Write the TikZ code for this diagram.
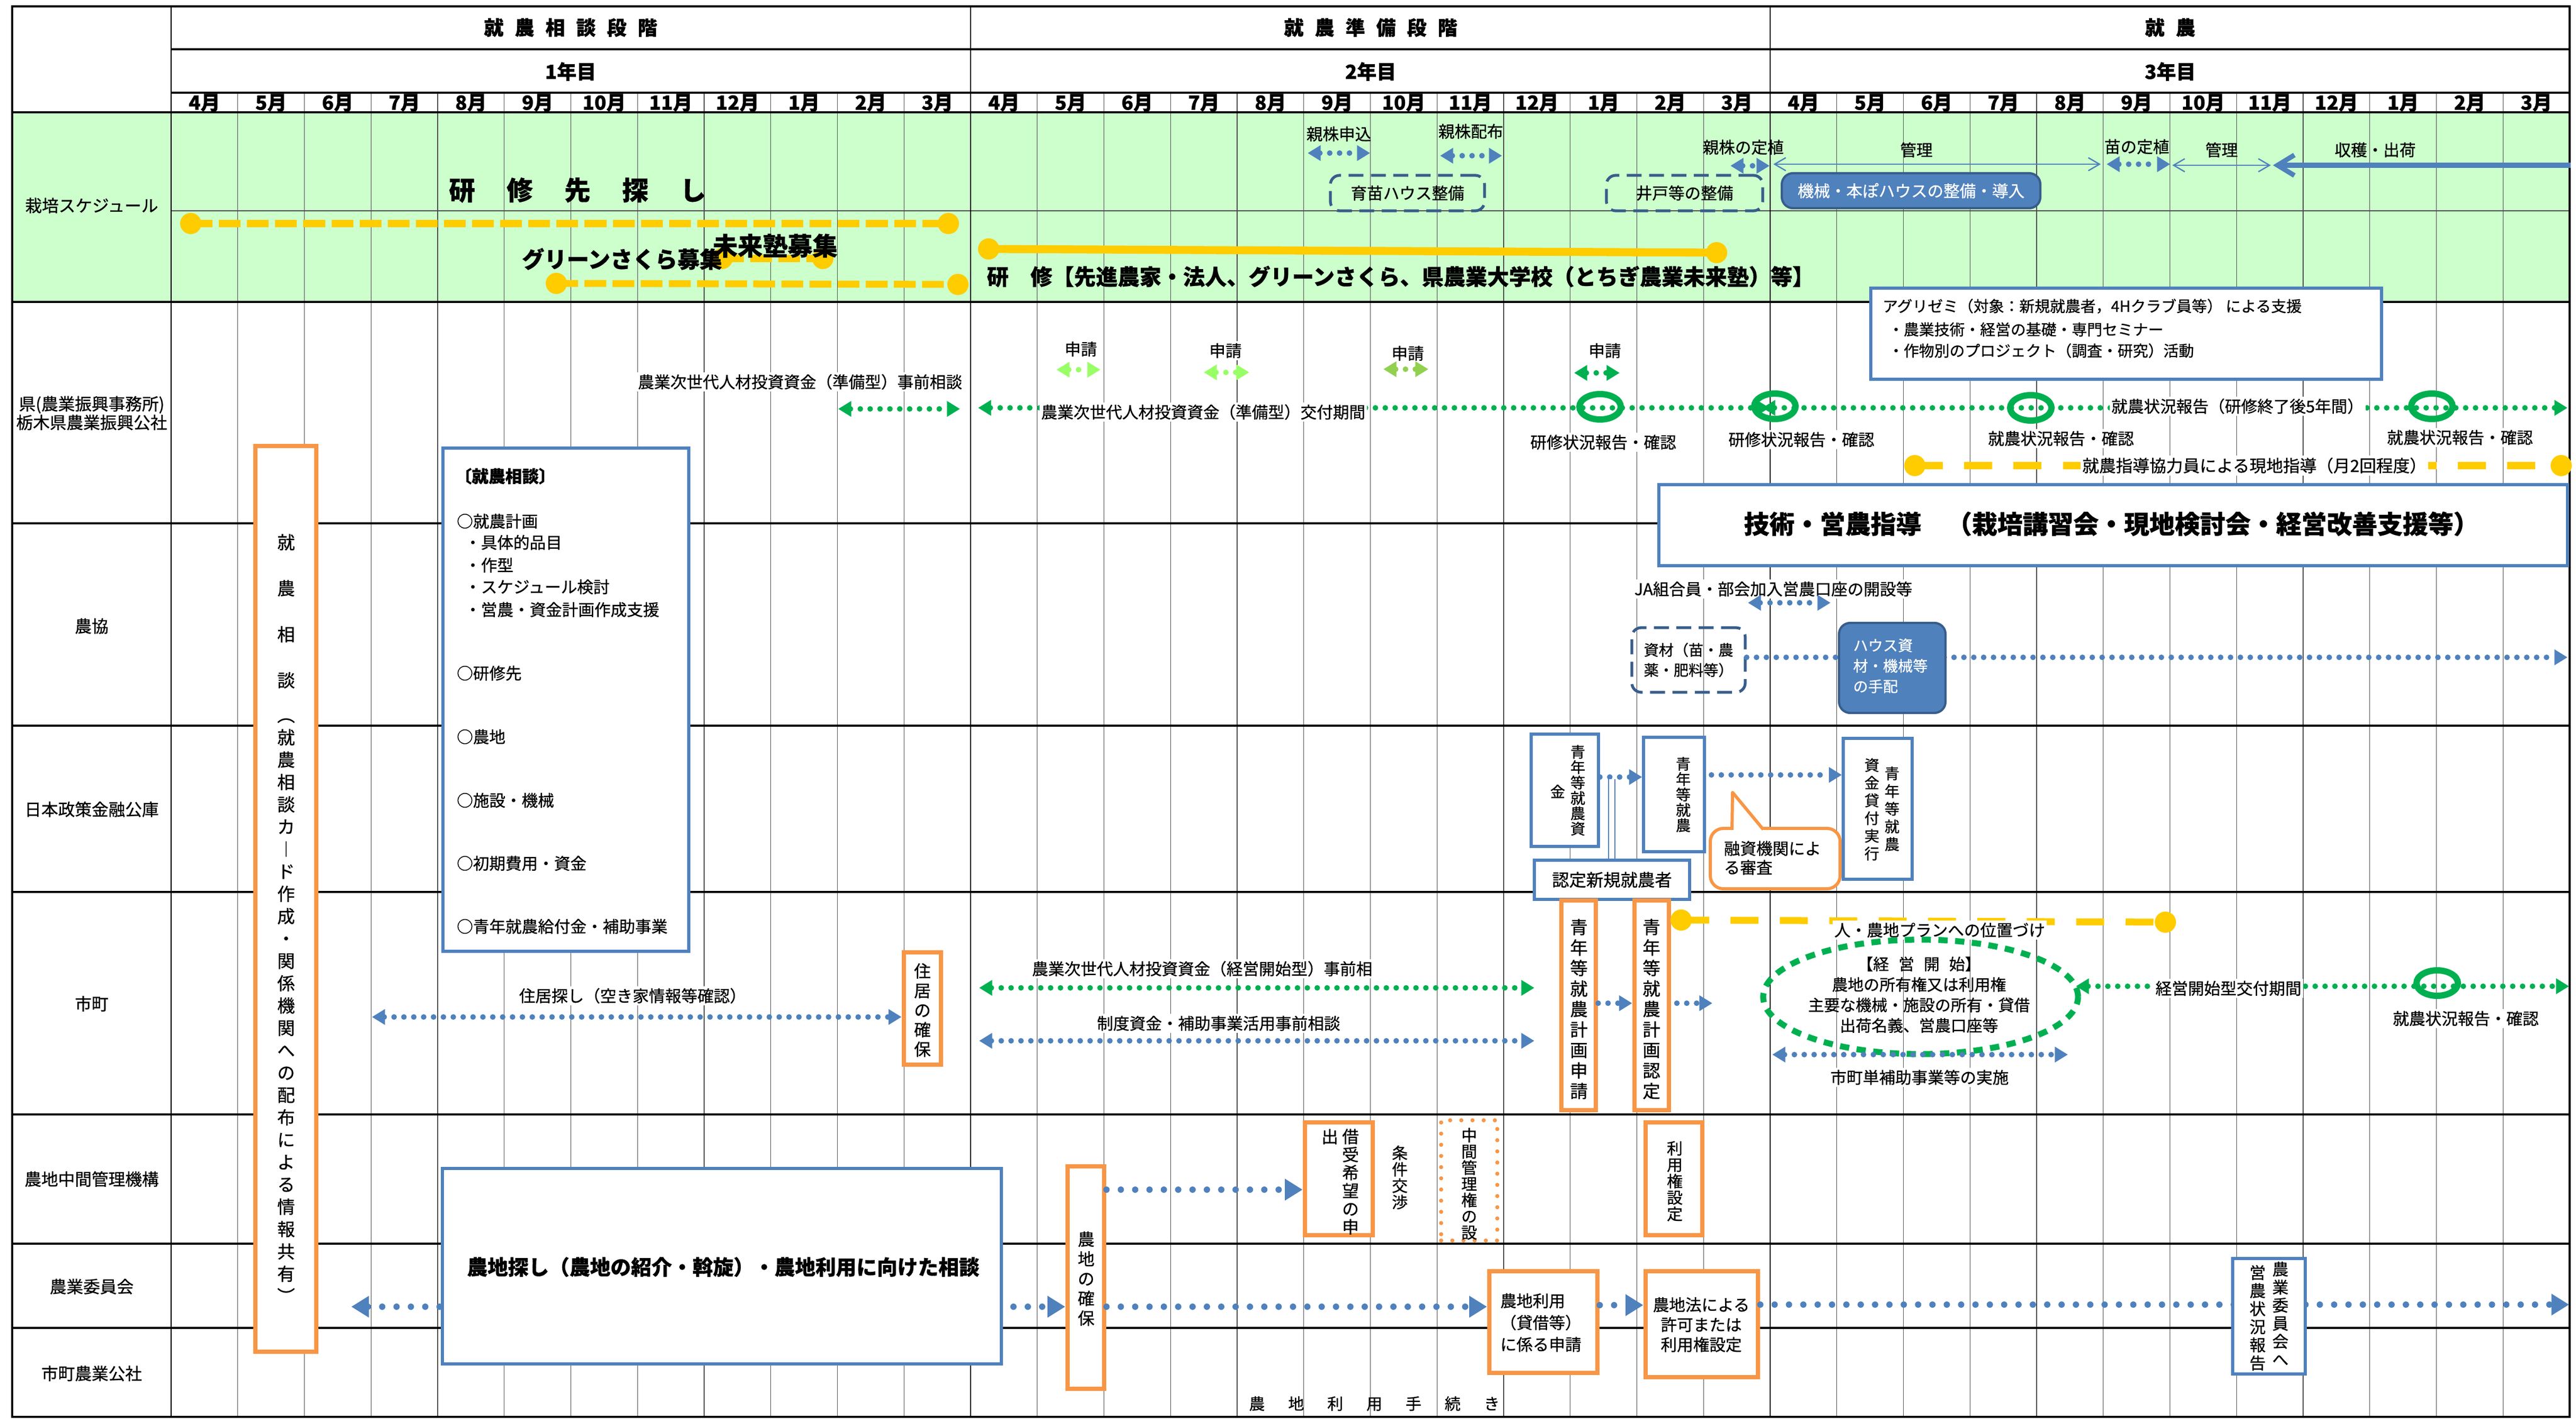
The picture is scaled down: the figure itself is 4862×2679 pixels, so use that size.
\documentclass[tikz,border=0pt]{standalone}
\usepackage{fontspec}
\setmainfont{Noto Sans CJK JP}[FakeBold=0.8]
\usetikzlibrary{arrows.meta,fit,shapes.geometric}
\definecolor{cblue}{HTML}{4F81BD}
\definecolor{cdblue}{HTML}{385D8A}
\definecolor{corange}{HTML}{F79646}
\definecolor{cgreen}{HTML}{00B050}
\definecolor{cyellow}{HTML}{FFCC00}
\definecolor{cbg}{HTML}{CCFFCC}
\definecolor{clgreen}{HTML}{99FF66}
\definecolor{cmgreen}{HTML}{92D050}
\newcommand\hgap{\hspace{6pt}}
\newcommand\fsz[2]{\fontsize{#1pt}{#2pt}\selectfont}
\tikzset{
  TF/.tip={Triangle[length=7pt,width=8pt]},
  TB/.tip={Triangle[length=9.5pt,width=11pt]},
  TO/.tip={Straight Barb[length=6pt,width=7pt]},
  TK/.tip={Straight Barb[length=9pt,width=11pt]},
}
\begin{document}
\begin{tikzpicture}[x=0.01cm,y=-0.01cm,
  gridthin/.style={draw=black!70,line width=0.35pt},
  gridyear/.style={draw=black,line width=0.8pt},
  gridthick/.style={draw=black,line width=1.2pt},
  lbl/.style={font=\fsz{8.7}{10}, inner sep=1pt},
  wl/.style={lbl, fill=white},
  hdr/.style={font=\bfseries\fsz{10.5}{12}, inner sep=0pt},
  mon/.style={font=\bfseries\fsz{10.5}{12}, inner sep=0pt},
  rowlbl/.style={font=\fsz{9}{10}, align=center, inner sep=0pt},
  fd/.style={line width=3pt, line cap=round, dash pattern=on 0pt off 5.3pt},
  bd/.style={line width=3.4pt, line cap=round, dash pattern=on 0pt off 7.7pt},
  yov/.style={circle, fill=cyellow, minimum size=0.4cm, inner sep=0pt},
  ydash/.style={draw=cyellow, line width=3.7pt, dash pattern=on 11.7pt off 3.4pt},
  ydash2/.style={draw=cyellow, line width=3.7pt, dash pattern=on 15pt off 11.5pt},
  ring/.style={ellipse, draw=cgreen, line width=3.4pt, minimum width=0.78cm, minimum height=0.48cm, inner sep=0pt},
  bbox/.style={draw=cblue, line width=1.5pt, fill=white, inner sep=0pt},
  obox/.style={draw=corange, line width=2.5pt, fill=white, inner sep=0pt},
  dbox/.style={draw=cdblue, line width=1.5pt, dash pattern=on 8pt off 4pt, rounded corners=5pt, inner sep=0pt},
  fbox/.style={draw=cdblue, line width=1.2pt, fill=cblue, rounded corners=6pt, inner sep=0pt},
]
\useasboundingbox (0,0) rectangle (4862,2679);
% ---------------- background and grid
\fill[cbg] (23,212) rectangle (4850,570);
\foreach \mm in {1,...,35} \draw[gridthin] ({323+125.75*\mm},175) -- ({323+125.75*\mm},2675);
\draw[gridthin] (323,398) -- (4850,398);
\foreach \yy in {570,988,1370,1684,2104,2348,2507} \draw[gridthick] (23,\yy) -- (4850,\yy);
\draw[gridthick] (323,93) -- (4850,93);
\draw[gridthick] (323,175) -- (4850,175);
\draw[gridthick] (23,212) -- (4850,212);
\draw[gridyear] (323,12) -- (323,2675);
\draw[gridyear] (1832,12) -- (1832,2675);
\draw[gridyear] (3341,12) -- (3341,2675);
\draw[gridthick] (23,12) rectangle (4850,2675);
% ---------------- headers
\node[hdr] (ph1) at (1077,52) {就\hgap 農\hgap 相\hgap 談\hgap 段\hgap 階};
\node[hdr] (ph2) at (2587,52) {就\hgap 農\hgap 準\hgap 備\hgap 段\hgap 階};
\node[hdr] (ph3) at (4096,52) {就\hgap 農};
\node[hdr] (yr1) at (1077,135) {1年目};
\node[hdr] (yr2) at (2587,135) {2年目};
\node[hdr] (yr3) at (4096,135) {3年目};
\foreach \mo/\lab in {0/4,1/5,2/6,3/7,4/8,5/9,6/10,7/11,8/12,9/1,10/2,11/3}
  \foreach \k in {0,1,2}
    \node[mon] (mo\k-\mo) at ({323+125.75*(\mo+12*\k+0.5)},194) {\lab 月};
% ---------------- row labels
\node[rowlbl] (r1) at (173,388) {栽培スケジュール};
\node[rowlbl] (r2) at (173,780) {県(農業振興事務所)\\栃木県農業振興公社};
\node[rowlbl] (r3) at (173,1182) {農協};
\node[rowlbl] (r4) at (173,1528) {日本政策金融公庫};
\node[rowlbl] (r5) at (173,1895) {市町};
\node[rowlbl] (r6) at (173,2226) {農地中間管理機構};
\node[rowlbl] (r7) at (173,2429) {農業委員会};
\node[rowlbl] (r8) at (173,2593) {市町農業公社};
% ---------------- schedule row, year 1
\node[font=\bfseries\fsz{14}{16}, inner sep=0] (kensaki) at (1090,359) {研\hspace{17pt}修\hspace{17pt}先\hspace{17pt}探\hspace{17pt}し};
\node[yov] (ya1) at (360,422) {};
\node[yov] (ya2) at (1790,422) {};
\draw[ydash] (ya1.center) -- (ya2.center);
\node[yov] (yb1) at (1363,488) {};
\node[yov] (yb2) at (1553,488) {};
\draw[ydash] (yb1.center) -- (yb2.center);
\node[yov] (yc1) at (1050,535) {};
\node[yov] (yc2) at (1808,537) {};
\draw[ydash] (yc1.center) -- (yc2.center);
\node[font=\bfseries\fsz{12}{14}, inner sep=0] (green) at (1174,489) {グリーンさくら募集};
\node[font=\bfseries\fsz{13.4}{15}, inner sep=0] (mirai) at (1463,464) {未来塾募集};
% ---------------- schedule row, year 2/3
\node[lbl] (oya1) at (2527,253) {親株申込};
\coordinate (a1a) at (2468,289); \coordinate (a1b) at (2586,289);
\draw[fd, draw=cblue, arrows={TF-TF}] (a1a) -- (a1b);
\node[lbl] (oya2) at (2776,248) {親株配布};
\coordinate (a2a) at (2718,294); \coordinate (a2b) at (2835,294);
\draw[fd, draw=cblue, arrows={TF-TF}] (a2a) -- (a2b);
\node[dbox, fit={(2511,331) (2802,398)}] (ikubyo) {};
\node[lbl] at (ikubyo.center) {育苗ハウス整備};
\node[dbox, fit={(3032,331) (3327,398)}] (ido) {};
\node[lbl] at (ido.center) {井戸等の整備};
\node[lbl] (teishoku1) at (3290,278) {親株の定植};
\coordinate (a3a) at (3266,313); \coordinate (a3b) at (3340,313);
\draw[fd, draw=cblue, arrows={TF-TF}] (a3a) -- (a3b);
\coordinate (t1a) at (3347,310); \coordinate (t1b) at (3965,310);
\draw[draw=cblue, line width=0.7pt, arrows={TO-TO}] (t1a) -- (t1b);
\node[lbl] (kanri1) at (3617,283) {管理};
\node[lbl] (teishoku2) at (4033,277) {苗の定植};
\coordinate (a4a) at (3976,310); \coordinate (a4b) at (4096,310);
\draw[fd, draw=cblue, arrows={TF-TF}] (a4a) -- (a4b);
\coordinate (t2a) at (4100,312); \coordinate (t2b) at (4286,312);
\draw[draw=cblue, line width=0.7pt, arrows={TO-TO}] (t2a) -- (t2b);
\node[lbl] (kanri2) at (4193,283) {管理};
\coordinate (t3a) at (4290,312); \coordinate (t3b) at (4852,312);
\draw[draw=cblue, line width=2.6pt, arrows={TK-}] (t3a) -- (t3b);
\node[lbl] (shukaku) at (4483,283) {収穫・出荷};
\node[fbox, fit={(3363,327) (3851,393)}] (kikai) {};
\node[lbl, text=white] at (kikai.center) {機械・本ぽハウスの整備・導入};
\node[yov] (ys1) at (1866,470) {};
\node[yov] (ys2) at (3240,477) {};
\draw[cyellow, line width=4.3pt] (ys1.center) -- (ys2.center);
\node[font=\bfseries\fsz{11.7}{13}, inner sep=0, anchor=west] (kenshu) at (1862,522) {研　修【先進農家・法人、グリーンさくら、県農業大学校（とちぎ農業未来塾）等】};
% ---------------- 県 row
\node[wl] (jizen1) at (1510,721) {農業次世代人材投資資金（準備型）事前相談};
\coordinate (g1a) at (1582,772); \coordinate (g1b) at (1812,772);
\draw[fd, draw=cgreen, arrows={TF-TF}] (g1a) -- (g1b);
\coordinate (g2a) at (1846,770); \coordinate (g2b) at (3340,770);
\draw[fd, draw=cgreen, arrows={TF-TF}] (g2a) -- (g2b);
\node[wl] (kofu1) at (2271,778) {農業次世代人材投資資金（準備型）交付期間};
\coordinate (g3a) at (3326,770); \coordinate (g3b) at (4846,770);
\draw[fd, draw=cgreen, arrows={TF-TF}] (g3a) -- (g3b);
\node[wl] (kofu2) at (4223,767) {就農状況報告（研修終了後5年間）};
\node[ring] (ring1) at (3020,768) {};
\node[ring] (ring2) at (3350,767) {};
\node[ring] (ring3) at (3833,770) {};
\node[ring] (ring4) at (4590,767) {};
\node[wl] (rep1) at (3026,835) {研修状況報告・確認};
\node[wl] (rep2) at (3400,830) {研修状況報告・確認};
\node[wl] (rep3) at (3890,828) {就農状況報告・確認};
\node[wl] (rep4) at (4643,826) {就農状況報告・確認};
\node[wl] (sin1) at (2040,659) {申請};
\coordinate (s1a) at (1994,698); \coordinate (s1b) at (2077,698);
\draw[fd, draw=clgreen, arrows={TF-TF}] (s1a) -- (s1b);
\node[wl] (sin2) at (2313,662) {申請};
\coordinate (s2a) at (2272,703); \coordinate (s2b) at (2358,703);
\draw[fd, draw=clgreen, arrows={TF-TF}] (s2a) -- (s2b);
\node[wl] (sin3) at (2657,667) {申請};
\coordinate (s3a) at (2611,697); \coordinate (s3b) at (2696,697);
\draw[fd, draw=cmgreen, arrows={TF-TF}] (s3a) -- (s3b);
\node[wl] (sin4) at (3029,662) {申請};
\coordinate (s4a) at (2971,704); \coordinate (s4b) at (3057,704);
\draw[fd, draw=cgreen, arrows={TF-TF}] (s4a) -- (s4b);
\node[bbox, fit={(3531,544) (4495,716)}] (agri) {};
\node[lbl, anchor=west, font=\fsz{8.2}{10}] (agri1) at (3549,578) {アグリゼミ（対象：新規就農者，4Hクラブ員等） による支援};
\node[lbl, anchor=west, font=\fsz{8.2}{10}] (agri2) at (3560,622) {・農業技術・経営の基礎・専門セミナー};
\node[lbl, anchor=west, font=\fsz{8.2}{10}] (agri3) at (3560,662) {・作物別のプロジェクト（調査・研究）活動};
\node[yov] (yd1) at (3614,879) {};
\node[yov] (yd2) at (4834,879) {};
\draw[ydash2] (yd1.center) -- (yd2.center);
\node[wl, font=\fsz{9}{10}] (kyoryoku) at (4255,879) {就農指導協力員による現地指導（月2回程度）};
\node[bbox, fit={(3131,915) (4846,1068)}] (gijutsu) {};
\node[font=\bfseries\fsz{13.6}{15}, inner sep=0] at (3985,989) {技術・営農指導\hspace{1em}（栽培講習会・現地検討会・経営改善支援等）};
% ---------------- 農協 row
\node[wl] (ja) at (3347,1112) {JA組合員・部会加入営農口座の開設等};
\coordinate (j1a) at (3299,1138); \coordinate (j1b) at (3455,1138);
\draw[fd, draw=cblue, arrows={TF-TF}] (j1a) -- (j1b);
\node[dbox, fit={(3080,1185) (3294,1307)}] (shizai) {};
\node[font=\fsz{8}{10.8}, align=left, inner sep=0] at (shizai.center) {資材（苗・農\\薬・肥料等）};
\coordinate (j2b) at (4846,1241);
\draw[fd, draw=cblue, arrows={-TF}] (shizai.east |- 0,1241) -- (j2b);
\node[fbox, fit={(3471,1176) (3672,1346)}] (house) {};
\node[font=\fsz{8}{11}, align=left, inner sep=0, text=white, anchor=west] at (3497,1257) {ハウス資\\材・機械等\\の手配};
% ---------------- 公庫 row
\node[bbox, fit={(2890,1386) (3017,1598)}] (boxA) {};
\node[font=\fsz{8}{8.25}, align=center, inner sep=0] at (2978,1492) {青\\年\\等\\就\\農\\資};
\node[font=\fsz{8}{8.25}, inner sep=0] at (2940,1494) {金};
\node[bbox, fit={(3102,1392) (3217,1608)}] (boxB) {};
\node[font=\fsz{8}{8.25}, align=center, inner sep=0] at (3177,1500) {青\\年\\等\\就\\農};
\draw[fd, draw=cblue, arrows={-TF}] (boxA.east |- 0,1467) -- (boxB.west |- 0,1467);
\node[bbox, fit={(2896,1624) (3189,1698)}] (nintei) {};
\node[font=\fsz{9.2}{10}, inner sep=0] at (nintei.center) {認定新規就農者};
\draw[cblue, line width=0.6pt, double distance=3pt] (nintei.north -| 3042,0) -- (3042,1471);
\node[bbox, fit={(3479,1394) (3609,1660)}] (boxC) {};
\node[font=\fsz{8}{9.5}, align=center, inner sep=0] at (3571,1527) {青\\年\\等\\就\\農};
\node[font=\fsz{8}{9.5}, align=center, inner sep=0] at (3533,1528) {資\\金\\貸\\付\\実\\行};
\draw[fd, draw=cblue, arrows={-TF}, shorten <=3pt] (boxB.east |- 0,1463) -- (boxC.west |- 0,1463);
\node[draw=corange, line width=1.7pt, fill=white, rounded corners=7pt, inner sep=0pt, fit={(3228,1564) (3473,1678)}] (callout) {};
\fill[white] (3272,1568) -- (3270,1496) -- (3326,1568) -- cycle;
\draw[corange, line width=1.7pt, line join=round] (3269,1566) -- (3270,1496) -- (3328,1566);
\node[font=\fsz{8.7}{10.2}, align=left, inner sep=0, anchor=north west] at (3253,1587) {融資機関によ\\る審査};
% ---------------- 市町 row
\node[obox, fit={(2947,1700) (3012,2096)}] (boxD) {};
\node[font=\fsz{9.5}{11}, align=center, inner sep=0] at (2980,1905) {青\\年\\等\\就\\農\\計\\画\\申\\請};
\node[obox, fit={(3085,1700) (3150,2096)}] (boxE) {};
\node[font=\fsz{9.5}{11}, align=center, inner sep=0] at (3117,1905) {青\\年\\等\\就\\農\\計\\画\\認\\定};
\draw[fd, draw=cblue, arrows={-TF}] (boxD.east |- 0,1894) -- (boxE.west |- 0,1894);
\coordinate (e1b) at (3232,1894);
\draw[fd, draw=cblue, arrows={-TF}, shorten <=3pt] (boxE.east |- 0,1894) -- (e1b);
\node[yov] (ye1) at (3173,1737) {};
\node[yov] (ye2) at (4087,1741) {};
\draw[ydash2] (ye1.center) -- (ye2.center);
\node[wl] (plan) at (3661,1756) {人・農地プランへの位置づけ};
\node[ellipse, draw=cgreen, line width=3.2pt, dash pattern=on 5pt off 4pt, minimum width=5.94cm, minimum height=2.16cm, inner sep=0pt] (keiei) at (3625,1882) {};
\node[font=\fsz{8.5}{11}, align=center, inner sep=0] at (3622,1878) {【経\hspace{0.6em}営\hspace{0.6em}開\hspace{0.6em}始】\\農地の所有権又は利用権\\主要な機械・施設の所有・貸借\\出荷名義、営農口座等};
\coordinate (k1a) at (3918,1862); \coordinate (k1b) at (4849,1862);
\draw[fd, draw=cgreen, arrows={TF-TF}] (k1a) -- (k1b);
\node[wl] (kaishi) at (4206,1866) {経営開始型交付期間};
\node[ring] (ring5) at (4600,1856) {};
\node[wl] (rep5) at (4654,1923) {就農状況報告・確認};
\coordinate (h1a) at (3345,1991); \coordinate (h1b) at (3903,1991);
\draw[fd, draw=cblue, arrows={TF-TF}] (h1a) -- (h1b);
\node[wl] (tandoku) at (3623,2034) {市町単補助事業等の実施};
\node[obox, fit={(1706,1798) (1776,2010)}] (jukyo) {};
\node[font=\fsz{9}{10.5}, align=center, inner sep=0] at (1741,1907) {住\\居\\の\\確\\保};
\node[wl] (jusagashi) at (1194,1880) {住居探し（空き家情報等確認）};
\coordinate (u1a) at (702,1920);
\draw[fd, draw=cblue, arrows={TF-TF}] (u1a) -- (jukyo.west |- 0,1920);
\coordinate (u2a) at (1848,1865); \coordinate (u2b) at (2896,1865);
\draw[fd, draw=cgreen, arrows={TF-TF}] (u2a) -- (u2b);
\node[wl] (jizen2) at (2269,1829) {農業次世代人材投資資金（経営開始型）事前相};
\coordinate (u3a) at (1848,1965); \coordinate (u3b) at (2896,1965);
\draw[fd, draw=cblue, arrows={TF-TF}] (u3a) -- (u3b);
\node[wl] (seido) at (2300,1932) {制度資金・補助事業活用事前相談};
% ---------------- 農地中間管理機構 / 農業委員会 rows
\coordinate (n1a) at (663,2467);
\node[obox, fit={(2015,2202) (2084,2622)}] (nouchi) {};
\draw[bd, draw=cblue, arrows={TB-TB}] (n1a) -- (nouchi.west |- 0,2467);
\node[font=\fsz{9}{10.6}, align=center, inner sep=0] at (2050,2414) {農\\地\\の\\確\\保};
\node[obox, fit={(2463,2119) (2591,2332)}] (kariuke) {};
\node[font=\fsz{9}{9.7}, align=center, inner sep=0] at (2549,2231) {借\\受\\希\\望\\の\\申};
\node[font=\fsz{9}{9.7}, inner sep=0] at (2510,2146) {出};
\draw[bd, draw=cblue, arrows={-TB}] (nouchi.east |- 0,2246) -- (kariuke.west |- 0,2246);
\node[font=\fsz{8.5}{8.8}, align=center, inner sep=0] (joken) at (2642,2223) {条\\件\\交\\渉};
\node[draw=corange, line width=2.2pt, line cap=round, dash pattern=on 0pt off 6pt, fill=white, inner sep=0pt, fit={(2720,2115) (2826,2342)}] (chukan) {};
\node[font=\fsz{8.5}{8.7}, align=center, inner sep=0] at (2773,2235) {中\\間\\管\\理\\権\\の\\設};
\node[obox, fit={(3106,2119) (3213,2332)}] (riyo) {};
\node[font=\fsz{8.5}{8.8}, align=center, inner sep=0] at (3161,2230) {利\\用\\権\\設\\定};
\node[bbox, fit={(835,2206) (1890,2575)}] (sagashi) {};
\node[font=\bfseries\fsz{11}{12}, inner sep=0] at (1365,2392) {農地探し（農地の紹介・斡旋）・農地利用に向けた相談};
\node[obox, fit={(2811,2400) (3015,2592)}] (shinsei) {};
\node[font=\fsz{8.7}{11.7}, align=left, inner sep=0, anchor=west] at (2831,2497) {農地利用\\（貸借等）\\に係る申請};
\draw[bd, draw=cblue, arrows={-TB}] (nouchi.east |- 0,2467) -- (shinsei.west |- 0,2467);
\node[obox, fit={(3106,2400) (3318,2600)}] (kyoka) {};
\node[font=\fsz{8.7}{10.7}, align=center, inner sep=0] at (3211,2501) {農地法による\\許可または\\利用権設定};
\draw[bd, draw=cblue, arrows={-TB}] (shinsei.east |- 0,2464) -- (kyoka.west |- 0,2464);
\coordinate (n2b) at (4849,2463);
\draw[bd, draw=cblue, arrows={-TB}] (kyoka.east |- 0,2463) -- (n2b);
\node[bbox, fit={(4214,2376) (4351,2594)}] (iinkai) {};
\node[font=\fsz{8.7}{9.7}, align=center, inner sep=0] at (4304,2480) {農\\業\\委\\員\\会\\へ};
\node[font=\fsz{8.7}{9.7}, align=center, inner sep=0] at (4261,2488) {営\\農\\状\\況\\報\\告};
\node[font=\fsz{8.5}{10}, inner sep=0] (tetsuzuki) at (2594,2650) {農\hspace{12.5pt}地\hspace{12.5pt}利\hspace{12.5pt}用\hspace{12.5pt}手\hspace{12.5pt}続\hspace{12.5pt}き};
% ---------------- 就農相談 columns (year 1)
\node[obox, fit={(482,842) (597,2552)}] (soudan) {};
\node[font=\fsz{9.5}{24.7}, align=center, inner sep=0] at (540,1154) {就\\農\\相\\談};
\node[font=\fsz{9.5}{12}, align=center, inner sep=0] at (540,1908) {︵\\就\\農\\相\\談\\カ\\︱\\ド\\作\\成\\・\\関\\係\\機\\関\\へ\\の\\配\\布\\に\\よ\\る\\情\\報\\共\\有\\︶};
\node[bbox, fit={(836,846) (1300,1796)}] (card) {};
\node[font=\bfseries\fsz{9}{10}, inner sep=0, anchor=west] at (858,899) {〔就農相談〕};
\node[lbl, anchor=west] at (858,984) {○就農計画};
\node[lbl, anchor=west] at (873,1024) {・具体的品目};
\node[lbl, anchor=west] at (873,1067) {・作型};
\node[lbl, anchor=west] at (873,1108) {・スケジュール検討};
\node[lbl, anchor=west] at (873,1151) {・営農・資金計画作成支援};
\node[lbl, anchor=west] at (858,1271) {○研修先};
\node[lbl, anchor=west] at (858,1391) {○農地};
\node[lbl, anchor=west] at (858,1511) {○施設・機械};
\node[lbl, anchor=west] at (858,1630) {○初期費用・資金};
\node[lbl, anchor=west] at (858,1749) {○青年就農給付金・補助事業};
\end{tikzpicture}
\end{document}
